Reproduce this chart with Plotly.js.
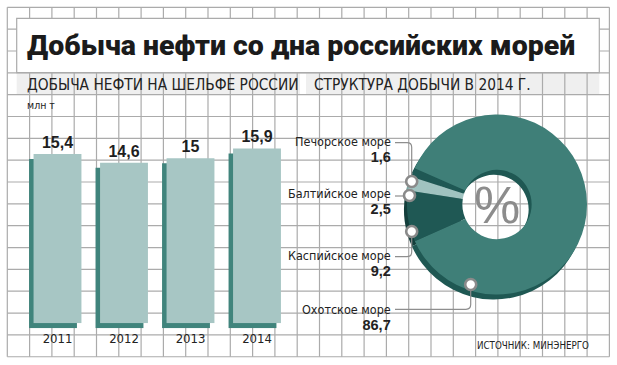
<!DOCTYPE html>
<html>
<head>
<meta charset="utf-8">
<script src="https://cdn.plot.ly/plotly-3.0.1.min.js"></script>
<style>
html,body{margin:0;padding:0;background:#fff;}
#chart{width:617px;height:365px;}
</style>
</head>
<body>
<div id="chart"></div>
<script>
// ---- data ----
const years = ['2011', '2012', '2013', '2014'];
const output = [15.4, 14.6, 15, 15.9];           // млн т
const seas = ['Печорское море', 'Балтийское море', 'Каспийское море', 'Охотское море'];
const shares = [1.6, 2.5, 9.2, 86.7];            // %, 2014

// ---- styles ----
const W = 617, H = 365;
const px = x => x / W;
const py = y => 1 - y / H;
const fmt = v => String(v).replace('.', ',');
const NARROW = '"Liberation Sans Narrow", "DejaVu Sans Condensed", Arial, sans-serif';
const BOLD = '"Liberation Sans", Arial, sans-serif';
const GRID = '#ababab';
const faceColor = '#a7c6c4';
const sideColor = '#40847c';
const pieColors = ['#1f5854', '#a0c3c0', '#1f5854', '#3f7f78'];
const pieRim = ['#174541', '#7ea5a2', '#133e3b', '#1f5853'];

const shapes = [];
// light bands behind subtitles
shapes.push({type:'rect', xref:'paper', yref:'paper', x0:px(16.7), x1:px(300), y0:py(73.3), y1:py(95), fillcolor:'#efefef', line:{width:0}, layer:'below'});
shapes.push({type:'rect', xref:'paper', yref:'paper', x0:px(306), x1:px(599.3), y0:py(73.3), y1:py(95), fillcolor:'#efefef', line:{width:0}, layer:'below'});
// grid
for (let i = 0; i <= 27; i++) {
  const x = 7.3 + i * 22.3;
  shapes.push({type:'line', xref:'paper', yref:'paper', x0:px(x), x1:px(x), y0:py(7.3), y1:py(356.7), line:{color:GRID, width:1.2}, layer:'below'});
}
for (let j = 0; j <= 16; j++) {
  const y = 7.3 + j * 21.84;
  shapes.push({type:'line', xref:'paper', yref:'paper', x0:px(7.3), x1:px(609.4), y0:py(y), y1:py(y), line:{color:GRID, width:1.2}, layer:'below'});
}
// title box
shapes.push({type:'rect', xref:'paper', yref:'paper', x0:px(16.7), x1:px(599.3), y0:py(72.7), y1:py(18.3), fillcolor:'#ffffff', line:{color:GRID, width:1.2}, layer:'below'});

// connectors (pixel points -> paper path)
const P = (x, y) => px(x) + ',' + py(y);
const LC = '#8e8e8e';
const paths = [
  'M' + P(395,142.7) + ' L' + P(407,142.7) + ' Q' + P(411.7,142.7) + ' ' + P(411.7,147.5) + ' L' + P(411.7,176),
  'M' + P(395,196) + ' L' + P(404,196),
  'M' + P(395,256.7) + ' L' + P(407,256.7) + ' Q' + P(411.7,256.7) + ' ' + P(411.7,252) + ' L' + P(411.7,237),
  'M' + P(395,309.3) + ' L' + P(466,309.3) + ' Q' + P(470.7,309.3) + ' ' + P(470.7,304.6) + ' L' + P(470.7,290)
];
paths.forEach(p => shapes.push({type:'path', xref:'paper', yref:'paper', path:p, line:{color:LC, width:1.2}, layer:'above'}));
// callout dots
const dots = [[411.7,181.5],[409.5,195.5],[411.7,231.5],[470.7,284.5]];
const R = 5.5;
dots.forEach(([x,y]) => shapes.push({type:'circle', xref:'paper', yref:'paper', x0:px(x-R), x1:px(x+R), y0:py(y+R), y1:py(y-R), fillcolor:'#ffffff', line:{color:'#8a8a8a', width:2.6}, layer:'above'}));

// annotations
const ann = [];
ann.push({text:'Добыча нефти со дна российских морей', x:px(25), y:py(45), xanchor:'left', yanchor:'middle', font:{family:'Roboto, "Liberation Sans", sans-serif', size:28.5, weight:900, color:'#1b1b1b'}});
ann.push({text:'ДОБЫЧА НЕФТИ НА ШЕЛЬФЕ РОССИИ', x:px(25), y:py(84.5), xanchor:'left', yanchor:'middle', font:{family:NARROW, size:15.3, color:'#222'}});
ann.push({text:'СТРУКТУРА ДОБЫЧИ В 2014 Г.', x:px(312), y:py(84.5), xanchor:'left', yanchor:'middle', font:{family:NARROW, size:15.3, color:'#222'}});
ann.push({text:'млн т', x:px(25), y:py(105), xanchor:'left', yanchor:'middle', font:{family:NARROW, size:10.5, color:'#222'}});
ann.push({text:'ИСТОЧНИК: МИНЭНЕРГО', x:px(591), y:py(345.5), xanchor:'right', yanchor:'middle', font:{family:NARROW, size:9.7, color:'#222'}});
ann.push({text:'%', x:px(497), y:py(205), xanchor:'center', yanchor:'middle', font:{family:'"Liberation Sans", Arial, sans-serif', size:52, color:'#8c8c8c'}});
const nameY = [142, 194, 256, 309.5];
seas.forEach((s, i) => {
  ann.push({
    text:s + '<br><span style="font-family:' + "'Liberation Sans', Arial" + ';font-size:14.5px;font-weight:bold">' + fmt(shares[i]) + '</span>',
    x:px(393), y:py(nameY[i] + 7.5), xanchor:'right', yanchor:'middle', align:'right',
    font:{family:NARROW, size:12.5, color:'#222'}
  });
});
ann.forEach(a => { a.xref = 'paper'; a.yref = 'paper'; a.showarrow = false; });

const traces = [
  {type:'bar', x:years, y:output, xaxis:'x', yaxis:'y', marker:{color:sideColor, line:{width:0}}, hoverinfo:'skip'},
  {type:'bar', x:years, y:output, xaxis:'x2', yaxis:'y2', marker:{color:faceColor, line:{width:0}},
   text:output.map(fmt), textposition:'outside', cliponaxis:false,
   textfont:{family:BOLD, size:16, weight:700, color:'#1e1e1e'}, hoverinfo:'skip'},
  {type:'pie', labels:seas, values:shares, sort:false, direction:'counterclockwise', rotation:-72,
   hole:0.385, textinfo:'none', marker:{colors:pieRim, line:{width:0}}, showlegend:false, hoverinfo:'skip',
   domain:{x:[px(494-90), px(494+90)], y:[py(209.5+90), py(209.5-90)]}},
  {type:'pie', labels:seas, values:shares, sort:false, direction:'counterclockwise', rotation:-72,
   hole:0.385, textinfo:'none', marker:{colors:pieColors, line:{width:0}}, showlegend:false, hoverinfo:'skip',
   domain:{x:[px(497-90), px(497+90)], y:[py(204.5+90), py(204.5-90)]}}
];

const layout = {
  width:W, height:H, margin:{l:0, r:0, t:0, b:0},
  paper_bgcolor:'#ffffff', plot_bgcolor:'rgba(0,0,0,0)',
  showlegend:false, bargap:0.28, hovermode:false,
  xaxis:{domain:[px(19.75), px(285.75)], anchor:'y', type:'category', range:[-0.5,3.5], visible:false, fixedrange:true},
  yaxis:{domain:[1 - 328.3/H, 1 - 108.3/H], anchor:'x', range:[0,20], visible:false, fixedrange:true},
  xaxis2:{domain:[px(24.25), px(290.25)], anchor:'y2', type:'category', range:[-0.5,3.5], showgrid:false, zeroline:false, showline:false, ticks:'', ticklabelstandoff:6, tickfont:{family:NARROW, size:13, color:'#222'}, fixedrange:true},
  yaxis2:{domain:[1 - 323.3/H, 1 - 103.3/H], anchor:'x2', range:[0,20], visible:false, fixedrange:true},
  shapes:shapes, annotations:ann
};

Plotly.newPlot('chart', traces, layout, {staticPlot:true, displayModeBar:false});
</script>
</body>
</html>
